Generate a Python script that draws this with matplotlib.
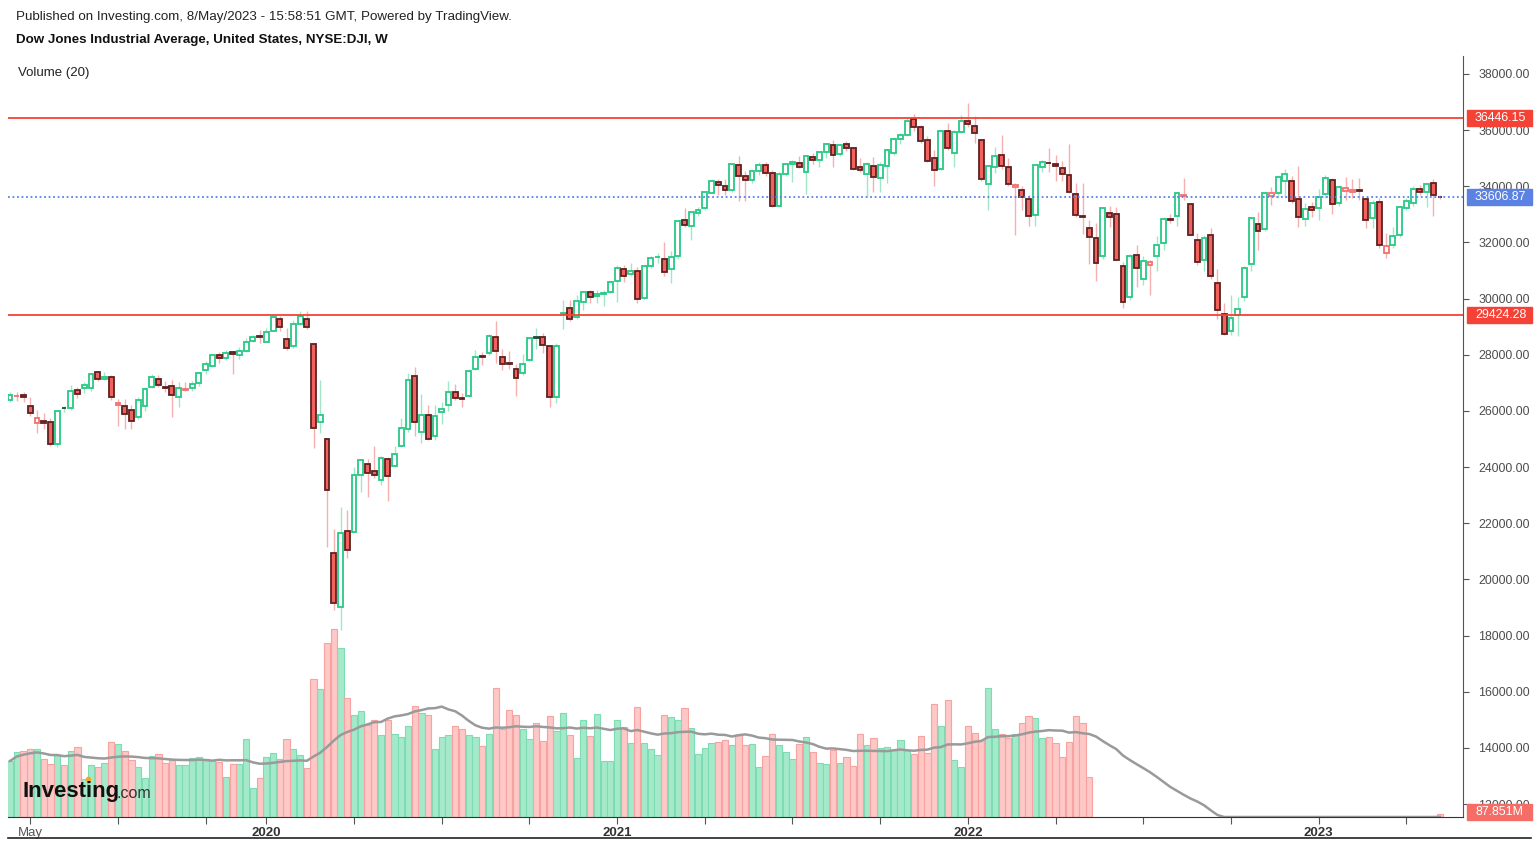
import numpy as np
import pandas as pd
import matplotlib
matplotlib.use("Agg")
import matplotlib.pyplot as plt
from matplotlib.patches import Rectangle
from matplotlib.lines import Line2D

# weekly Dow Jones bars, from the week of 15 Apr 2019 to the week of 8 May 2023
opens = [
    26400, 26530, 26580, 26180, 25560, 25650, 25620, 24810, 26100, 26100,
    26740, 26800, 26810, 27380, 27150, 27200, 26200, 26190, 26040, 25800,
    26180, 26850, 27150, 26850, 26870, 26500, 26760, 26800, 26980, 27450,
    27600, 27990, 27900, 28100, 27980, 28150, 28490, 28660, 28470, 28850,
    29270, 28560, 28320, 29100, 29280, 28400, 25590, 25000, 20930, 19028,
    21730, 21700, 23700, 24100, 23860, 23550, 24280, 24050, 24760, 25340,
    27230, 25240, 25860, 25120, 25950, 26200, 26680, 26460, 26540, 27500,
    27960, 28050, 28640, 27930, 27700, 27490, 27340, 27830, 28640, 28630,
    28300, 26500, 29440, 29660, 29340, 29880, 30230, 30110, 30150, 30250,
    30630, 31040, 30880, 30990, 30030, 31170, 31470, 31400, 31050, 31500,
    32800, 32570, 33060, 33220, 33750, 34140, 34020, 33880, 34760, 34360,
    34220, 34550, 34760, 34470, 33300, 34440, 34790, 34830, 34520, 35040,
    34940, 35220, 35480, 35150, 35490, 35370, 34680, 34430, 34720, 34300,
    34710, 35180, 35680, 35830, 36410, 36100, 35640, 35000, 34620, 35970,
    35180, 35950, 36320, 36150, 35640, 34070, 34690, 35120, 34690, 33960,
    33870, 33550, 32980, 34680, 34830, 34790, 34650, 34400, 33720, 32940,
    32520, 32160, 31500, 33040, 33000, 31160, 30060, 31550, 30700, 31180,
    31530, 31970, 32830, 32940, 33640, 33360, 32070, 31380, 32270, 30540,
    29450, 28850, 29420, 30060, 31230, 32660, 32470, 33640, 33750, 34190,
    34200, 33550, 32850, 33260, 33220, 33720, 34230, 33420, 33820, 33780,
    33860, 33560, 32860, 33430, 31610, 31900, 32260, 33220, 33400, 33910,
    33790, 34110, 33620]

highs = [
    26670, 26660, 26680, 26490, 26030, 25930, 25760, 26000, 26190, 26920,
    26850, 27040, 27360, 27420, 27400, 27280, 26430, 26430, 26200, 26510,
    26850, 27310, 27280, 27080, 27100, 27040, 27040, 27050, 27350, 27775,
    28030, 28110, 28175, 28150, 28290, 28610, 28700, 28870, 28960, 29375,
    29375, 28950, 29250, 29570, 29570, 28410, 27100, 25030, 21780, 22595,
    22480, 24010, 24280, 24300, 24764, 24390, 24370, 24750, 25758, 27340,
    27580, 26600, 26200, 26210, 26300, 27070, 26960, 26630, 27500, 28170,
    28100, 28750, 29200, 28200, 28140, 27660, 28030, 28620, 28960, 28780,
    28300, 28413, 29933, 29960, 30130, 30250, 30320, 30320, 30290, 30640,
    31193, 31200, 31270, 31110, 31200, 31500, 31640, 32009, 31710, 32800,
    33227, 33100, 33260, 33810, 34260, 34250, 34250, 34811, 35091, 34550,
    34600, 34850, 34850, 34580, 34500, 34800, 34930, 35080, 35070, 35170,
    35250, 35530, 35640, 35500, 35630, 35400, 35000, 34850, 35050, 34850,
    35330, 35770, 35890, 36470, 36565, 36200, 35800, 35300, 36000, 36250,
    36000, 36530, 36952, 36500, 35700, 34750, 35400, 35824, 35000, 34100,
    34000, 33700, 34800, 34950, 35370, 35100, 34900, 35492, 34130, 34117,
    32800, 32680, 33250, 33300, 33270, 31300, 31600, 31900, 31520, 31370,
    32230, 32920, 33000, 33800, 34281, 33400, 32320, 32250, 32500, 31050,
    29830, 30120, 30040, 31150, 32900, 33100, 33800, 33990, 34420, 34610,
    34350, 34712, 33420, 33450, 33900, 34400, 34300, 34050, 34342, 34250,
    34300, 33600, 33500, 33570, 32330, 32550, 33300, 33600, 34000, 34050,
    34100, 34257, 33700]

lows = [
    26330, 26350, 26300, 25810, 25220, 25360, 24760, 24730, 25950, 26030,
    26460, 26650, 26710, 27070, 27100, 26390, 25480, 25360, 25340, 25700,
    26000, 26820, 26850, 26690, 25780, 26150, 26700, 26700, 26880, 27330,
    27560, 27700, 27820, 27325, 27850, 28100, 28440, 28420, 28440, 28830,
    28850, 28170, 28230, 29060, 28920, 24680, 25226, 21154, 18917, 18213,
    20760, 21690, 23100, 22940, 23600, 23360, 22790, 24000, 24730, 25250,
    25100, 24840, 24960, 24970, 25520, 25990, 26400, 26136, 26500, 27460,
    27640, 27980, 27700, 27460, 27490, 26537, 27280, 27780, 28200, 28050,
    26143, 26277, 28900, 29200, 29280, 29600, 29860, 29860, 29750, 30200,
    29881, 30600, 30800, 29850, 30000, 31080, 31270, 30800, 30547, 31400,
    32540, 32090, 32930, 33160, 33750, 33700, 33700, 33810, 33474, 33470,
    34100, 34400, 34350, 33270, 33270, 34350, 34140, 34650, 33741, 34800,
    34700, 35000, 34700, 35080, 35250, 34570, 34520, 33613, 33790, 33785,
    34100, 35100, 35500, 35800, 35980, 35550, 34850, 34006, 34580, 35300,
    34700, 35900, 36130, 35550, 34200, 33150, 34470, 34600, 34000, 32272,
    33160, 32578, 32600, 34500, 34500, 34200, 34200, 33750, 32900, 32300,
    31228, 30636, 31400, 32540, 31390, 29653, 29950, 30400, 30500, 30143,
    31000, 31730, 32700, 32600, 33520, 32250, 31200, 31000, 30700, 29270,
    28715, 28700, 28660, 29900, 31000, 31730, 32400, 33350, 33600, 33600,
    33400, 32560, 32580, 32900, 32800, 33600, 33000, 33300, 33500, 33600,
    33500, 32500, 32500, 31800, 31429, 31800, 32200, 33150, 33300, 33700,
    33260, 32950, 33560]

closes = [
    26559, 26543, 26505, 25942, 25764, 25585, 24815, 25984, 26090, 26719,
    26600, 26922, 27332, 27154, 27192, 26485, 26287, 25886, 25628, 26403,
    26797, 27220, 26935, 26820, 26573, 26816, 26770, 26958, 27347, 27681,
    28005, 27876, 28051, 28015, 28135, 28455, 28645, 28634, 28823, 29348,
    28990, 28256, 29102, 29398, 28992, 25409, 25865, 23186, 19174, 21636,
    21053, 23719, 24242, 23775, 23724, 24331, 23685, 24465, 25383, 27111,
    25606, 25871, 25016, 25827, 26075, 26672, 26470, 26428, 27433, 27931,
    27930, 28654, 28133, 27666, 27657, 27174, 27683, 28587, 28606, 28336,
    26502, 28323, 29480, 29263, 29910, 30218, 30046, 30179, 30200, 30606,
    31098, 30814, 30997, 29983, 31148, 31458, 31494, 30932, 31496, 32779,
    32628, 33073, 33153, 33800, 34200, 34043, 33875, 34778, 34382, 34208,
    34529, 34756, 34480, 33290, 34433, 34786, 34870, 34688, 35062, 34935,
    35209, 35515, 35120, 35456, 35369, 34608, 34585, 34798, 34326, 34746,
    35295, 35677, 35820, 36328, 36100, 35602, 34899, 34580, 35971, 35365,
    35950, 36338, 36231, 35912, 34265, 34725, 35089, 34738, 34079, 34059,
    33615, 32944, 34755, 34861, 34818, 34721, 34451, 33811, 32977, 32899,
    32197, 31262, 33213, 32900, 31393, 29888, 31501, 31097, 31338, 31288,
    31899, 32845, 32803, 33761, 33707, 32283, 31318, 32151, 30822, 29590,
    28726, 29297, 29635, 31083, 32861, 32403, 33748, 33746, 34347, 34430,
    33477, 32921, 33204, 33147, 33631, 34303, 33375, 33978, 33926, 33870,
    33827, 32817, 33391, 31910, 31862, 32238, 33274, 33486, 33887, 33809,
    34098, 33674, 33607]

# volume in millions (no volume reported after mid May 2022, partial last week)
volumes = [
    1641, 1905, 1934, 1984, 2001, 1708, 1544, 1808, 1515, 1934,
    2042, 1113, 1515, 1474, 1573, 2189, 2139, 1934, 1670, 1474,
    1143, 1796, 1837, 1573, 1670, 1515, 1515, 1737, 1767, 1708,
    1670, 1612, 1181, 1544, 1544, 2294, 841, 1143, 1767, 1866,
    1708, 2277, 2001, 1808, 1444, 4035, 3742, 5089, 5500, 4960,
    3478, 2980, 3097, 2696, 2851, 2394, 2851, 2423, 2335, 2658,
    3244, 3047, 2980, 1992, 2335, 2394, 2658, 2587, 2394, 2335,
    2072, 2423, 3771, 2570, 3126, 2980, 2570, 2294, 2763, 2240,
    2951, 2520, 3056, 2394, 1737, 2851, 2365, 3018, 1632, 1632,
    2833, 2637, 2159, 3214, 2159, 1992, 1808, 2980, 2921, 2833,
    3185, 2616, 1837, 2030, 2159, 2189, 2265, 2101, 2394, 2101,
    2130, 1465, 1796, 2423, 2101, 1896, 1699, 2130, 2335, 1896,
    1573, 1544, 1963, 1573, 1767, 1503, 2423, 2101, 2306, 2030,
    2060, 1963, 2265, 1963, 1837, 2365, 1866, 3320, 2658, 3419,
    1661, 1465, 2658, 2452, 2265, 3771, 2587, 2423, 2323, 2423,
    2754, 2951, 2892, 2306, 2335, 2159, 1767, 2189, 2951, 2763,
    1181] + [0] * 51 + [87.851]

level_hi = 36446.15
level_lo = 29424.28
last_price = 33606.87
last_volume_text = "87.851M"

tick_months = ["2019-05", "2019-08", "2019-11", "2020-01", "2020-04", "2020-07",
               "2020-10", "2021-01", "2021-04", "2021-07", "2021-10", "2022-01",
               "2022-04", "2022-07", "2022-10", "2023-01", "2023-04"]
tick_texts = ["May", "", "", "2020", "", "", "", "2021", "", "", "",
              "2022", "", "", "", "2023", ""]

GREEN = "#26c985"
GREEN_WICK = "#a3e6c7"
RED = "#f0625b"
RED_DARK = "#5e2020"
RED_LIGHT = "#f27070"
RED_WICK = "#f6b0b0"


def main():
    plt.rcParams["font.family"] = ["Liberation Sans", "DejaVu Sans"]
    W, H = 1539, 844
    fig = plt.figure(figsize=(W / 100, H / 100), dpi=100)
    rect = [8 / W, 27 / H, (1463 - 8) / W, (817 - 56) / H]

    o = np.array(opens, float)
    h = np.array(highs, float)
    lo = np.array(lows, float)
    c = np.array(closes, float)
    v = np.array(volumes, float)
    n = len(c)
    x = np.arange(n)
    dates = pd.date_range("2019-04-15", periods=n, freq="W-MON")

    # volume pane behind the price pane
    axv = fig.add_axes(rect)
    axv.set_xlim(-0.3, 215.4)
    axv.set_ylim(0, 761 * 29.3)
    axv.axis("off")
    vup = c >= o
    has = v > 0
    for m, fc, ec in [(vup & has, "#a5e9cb", "#7ddcb2"), (~vup & has, "#fdc8c6", "#f6a3a1")]:
        axv.bar(x[m], v[m], width=0.92, color=fc, edgecolor=ec, linewidth=0.8)
    ma = pd.Series(v).rolling(20, min_periods=1).mean()
    axv.plot(x, ma, color="#9a9a9a", lw=1.8)

    ax = fig.add_axes(rect)
    ax.patch.set_alpha(0)
    ax.set_xlim(-0.3, 215.4)
    ax.set_ylim(11537, 38641)

    prev = np.r_[o[0], c[:-1]]
    up = c >= prev
    hollow = c >= o

    wick_cols = [GREEN_WICK if u else RED_WICK for u in up]
    ax.vlines(x, lo, h, colors=wick_cols, lw=1, zorder=2)
    body_h = np.abs(c - o)
    body_b = np.minimum(o, c)
    groups = [
        (up & hollow, "white", GREEN),
        (~up & hollow, "white", RED_LIGHT),
        (up & ~hollow, GREEN, "#24483a"),
        (~up & ~hollow, RED, RED_DARK),
    ]
    for m, fc, ec in groups:
        ax.bar(x[m], body_h[m], bottom=body_b[m], width=0.72, color=fc,
               edgecolor=ec, linewidth=1.3, zorder=3)

    ax.axhline(level_hi, color="#f44336", lw=1.3, zorder=4)
    ax.axhline(level_lo, color="#f44336", lw=1.3, zorder=4)
    ax.axhline(last_price, color="#5b82e3", lw=1.3, ls=(0, (1, 1.5)), zorder=4)

    # axes look
    for s in ["top", "left"]:
        ax.spines[s].set_visible(False)
    ax.spines["right"].set_color("#555555")
    ax.spines["bottom"].set_color("#333333")
    ax.yaxis.tick_right()
    yt = list(range(12000, 38001, 2000))
    ax.set_yticks(yt)
    ax.set_yticklabels([f"{t:.2f}" for t in yt])
    ax.tick_params(axis="y", direction="out", length=4, color="#555555",
                   labelcolor="#4d4d4d", labelsize=8.9, pad=7)

    ym = dates.strftime("%Y-%m")
    tick_idx = [int(np.argmax(ym == m)) for m in tick_months]
    ax.set_xticks(tick_idx)
    ax.set_xticklabels(tick_texts)
    ax.tick_params(axis="x", direction="out", length=5, color="#555555",
                   labelsize=9.5, pad=2)
    for lab in ax.get_xticklabels():
        if lab.get_text() == "May":
            lab.set_color("#555555")
        else:
            lab.set_color("#333333")
            lab.set_fontweight("bold")

    # price tags on the right scale
    def tag(yd, text, color):
        fig.patches.append(Rectangle((1467 / W, (yd - 8) / H), 65 / W, 16 / H,
                                     transform=fig.transFigure, color=color, zorder=5))
        fig.text(1475 / W, yd / H, text, color="white", fontsize=8.9,
                 va="center", ha="left", zorder=6)

    tag(ax.transData.transform((0, level_hi))[1], f"{level_hi:.2f}", "#f44336")
    tag(ax.transData.transform((0, last_price))[1], f"{last_price:.2f}", "#5b82e3")
    tag(ax.transData.transform((0, level_lo))[1], f"{level_lo:.2f}", "#f44336")
    tag(axv.transData.transform((0, v[-1]))[1] + 2, last_volume_text, "#f46d67")

    # header and labels
    fig.text(16 / W, 1 - 17 / H, "Published on Investing.com, 8/May/2023 - 15:58:51 GMT, Powered by TradingView.",
             fontsize=9.6, color="#222222", va="center")
    fig.text(16 / W, 1 - 40 / H, "Dow Jones Industrial Average, United States, NYSE:DJI, W",
             fontsize=9.6, fontweight="bold", color="#111111", va="center")
    fig.text(18 / W, 1 - 73 / H, "Volume (20)", fontsize=9.5, color="#222222", va="center")

    # Investing.com mark
    fig.text(22 / W, 1 - 792 / H, "Investing", fontsize=16, fontweight="bold",
             color="#111111", va="center", zorder=7)
    fig.text(117 / W, 1 - 794 / H, ".com", fontsize=11.5, color="#333333",
             va="center", zorder=7)
    fig.add_artist(Line2D([88 / W], [1 - 779 / H], marker="o", ms=3,
                          color="#f5a623", lw=0))

    fig.add_artist(Line2D([8 / W, 1531 / W], [1 - 838 / H, 1 - 838 / H],
                          color="#222222", lw=1.2))

    fig.savefig("out.png", dpi=100)


if __name__ == "__main__":
    main()
